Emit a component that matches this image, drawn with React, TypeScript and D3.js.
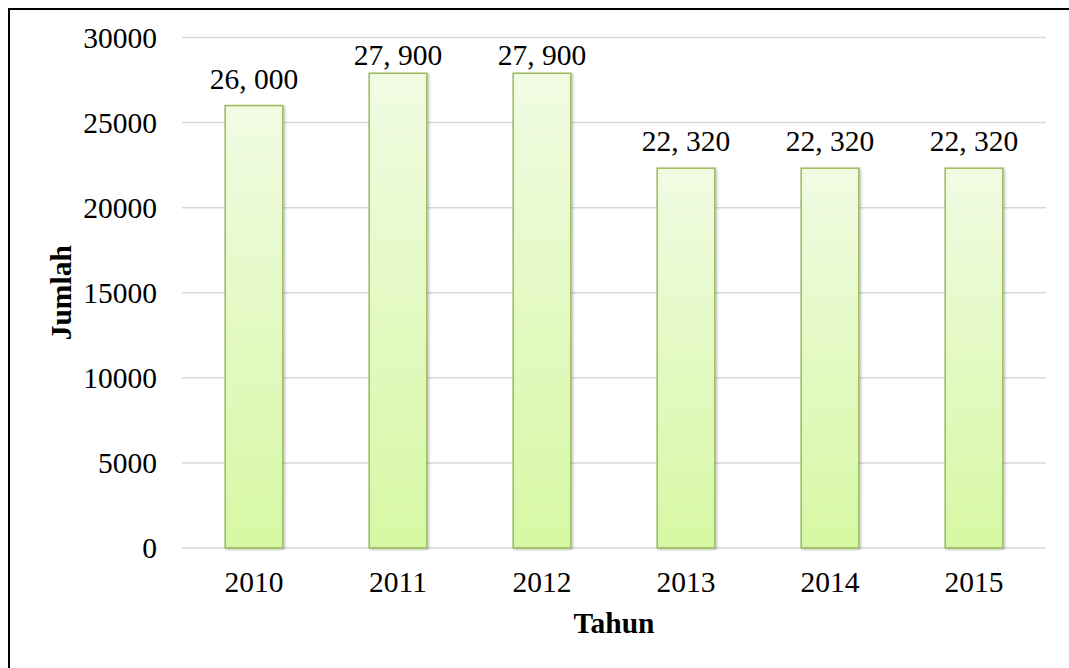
import * as d3 from 'd3'

const years = ['2010', '2011', '2012', '2013', '2014', '2015']
const jumlah = [26000, 27900, 27900, 22320, 22320, 22320]
const valueLabels = ['26, 000', '27, 900', '27, 900', '22, 320', '22, 320', '22, 320']
const yTicks = [0, 5000, 10000, 15000, 20000, 25000, 30000]

// page coordinates, svg covers the whole window
const W = 1069
const H = 668
const margin = { top: 37.5, right: 23, bottom: 120, left: 182 }
const font = "'Times New Roman', 'Liberation Serif', serif"
const fs = 29.5

export default function App() {
  const x = d3.scaleBand()
    .domain(years)
    .range([margin.left, W - margin.right])
    .paddingInner(0.6)
    .paddingOuter(0.3)

  const y = d3.scaleLinear()
    .domain([0, 30000])
    .range([H - margin.bottom, margin.top])

  const plotBottom = H - margin.bottom
  const midY = (margin.top + plotBottom) / 2
  const midX = (margin.left + W - margin.right) / 2

  return (
    <svg width={W} height={H} style={{ position: 'absolute', left: 0, top: 0, display: 'block' }}>
      <defs>
        <linearGradient id="barFill" x1="0" y1="0" x2="0" y2="1">
          <stop offset="0%" stopColor="#f1fbe3" />
          <stop offset="100%" stopColor="#d6f8a3" />
        </linearGradient>
        <filter id="shadow" x="-20%" y="-20%" width="140%" height="140%">
          <feDropShadow dx="1.5" dy="1" stdDeviation="1" floodColor="#000" floodOpacity="0.25" />
        </filter>
      </defs>

      {/* outer frame: only the top and left edges fall inside the window */}
      <line x1={8} x2={W} y1={9} y2={9} stroke="black" strokeWidth={2} />
      <line x1={9} x2={9} y1={8} y2={H} stroke="black" strokeWidth={2} />

      {yTicks.map(t => (
        <g key={t}>
          <line x1={margin.left} x2={W - margin.right} y1={y(t)} y2={y(t)} stroke="#d9d9d9" strokeWidth={1.5} />
          <text x={157} y={y(t)} dy="0.35em" textAnchor="end" fontFamily={font} fontSize={fs} fill="#000">
            {t}
          </text>
        </g>
      ))}

      {years.map((yr, i) => {
        const top = y(jumlah[i])
        const cx = (x(yr) as number) + x.bandwidth() / 2
        return (
          <g key={yr}>
            <rect
              x={x(yr)}
              y={top}
              width={x.bandwidth()}
              height={plotBottom - top}
              fill="url(#barFill)"
              stroke="#9bbb59"
              strokeWidth={1.5}
              filter="url(#shadow)"
            />
            <text x={cx} y={Math.max(top - 17, margin.top + 27)} textAnchor="middle" fontFamily={font} fontSize={fs} fill="#000">
              {valueLabels[i]}
            </text>
            <text x={cx} y={592} textAnchor="middle" fontFamily={font} fontSize={fs} fill="#000">
              {yr}
            </text>
          </g>
        )
      })}

      <text x={midX} y={633} textAnchor="middle" fontFamily={font} fontSize={fs} fontWeight="bold" fill="#000">
        Tahun
      </text>
      <text
        transform={`translate(71,${midY}) rotate(-90)`}
        textAnchor="middle"
        fontFamily={font}
        fontSize={fs}
        fontWeight="bold"
        fill="#000"
      >
        Jumlah
      </text>
    </svg>
  )
}
